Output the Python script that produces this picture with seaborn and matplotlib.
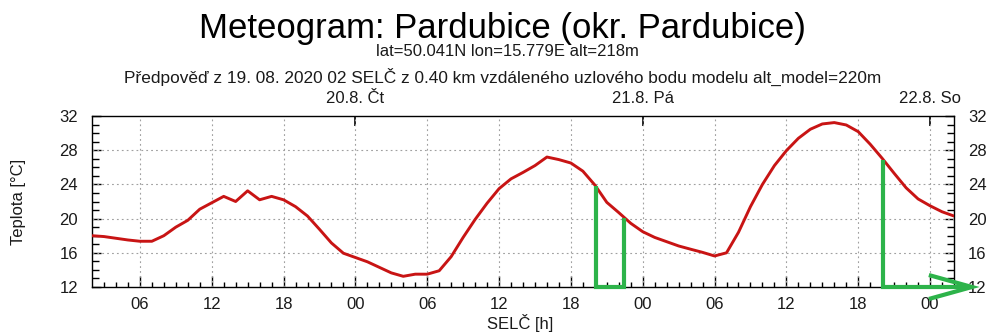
import numpy as np
import pandas as pd
import matplotlib
matplotlib.use("Agg")
import matplotlib.pyplot as plt
from matplotlib.ticker import FixedLocator
import seaborn as sns

# Forecast time axis: hours counted from 19.08.2020 00:00 SELČ
hours = list(range(2, 75))
temperature = [
    18.0, 17.9, 17.7, 17.5, 17.35, 17.35, 18.0, 19.0, 19.8, 21.1,
    21.85, 22.6, 22.0, 23.25, 22.2, 22.6, 22.2, 21.4, 20.3, 18.75,
    17.15, 15.95, 15.45, 14.95, 14.3, 13.65, 13.25, 13.5, 13.5, 13.9,
    15.55, 17.8, 19.9, 21.8, 23.5, 24.65, 25.4, 26.2, 27.2, 26.9,
    26.5, 25.55, 23.93, 21.9, 20.7, 19.45, 18.47, 17.8, 17.3, 16.8,
    16.42, 16.05, 15.63, 16.0, 18.4, 21.4, 24.0, 26.2, 27.95, 29.39,
    30.45, 31.07, 31.23, 30.95, 30.17, 28.7, 27.05, 25.3, 23.6, 22.3,
    21.5, 20.8, 20.3,
]

temp_ticks = [12, 16, 20, 24, 28, 32]
hour_ticks = [6, 12, 18, 24, 30, 36, 42, 48, 54, 60, 66, 72]
hour_labels = ["06", "12", "18", "00", "06", "12", "18", "00", "06", "12", "18", "00"]
day_hours = [24, 48, 72]
day_labels = ["20.8. Čt", "21.8. Pá", "22.8. So"]

# Highlighted evening intervals (green markers)
bracket_hours = [44.08, 46.47]
arrow_hours = [68.08, 75.5]

title = "Meteogram: Pardubice (okr. Pardubice)"
subtitle_1 = "lat=50.041N lon=15.779E alt=218m"
subtitle_2 = ("Předpověď z 19. 08. 2020 02 SELČ z 0.40 km vzdáleného "
              "uzlového bodu modelu alt_model=220m")

sns.set_theme(style="white")
plt.rcParams["font.family"] = ["Liberation Sans", "DejaVu Sans"]

df = pd.DataFrame({"hour": hours, "temp": temperature})

fig = plt.figure(figsize=(9.99, 3.35), dpi=100)
ax = fig.add_axes([92 / 999, 1 - 287 / 335, (954 - 92) / 999, (287 - 116) / 335])

sns.lineplot(data=df, x="hour", y="temp", ax=ax, color="#c81414",
             linewidth=2.1, zorder=3)

ax.set_xlim(2, 74)
ax.set_ylim(12, 32)

# dotted grid
grid_kw = dict(color="#a0a0a0", linewidth=0.8, linestyle=(0, (1.6, 2.8)), zorder=1)
for h in hour_ticks:
    ax.axvline(h, **grid_kw)
for t in temp_ticks[1:-1]:
    ax.axhline(t, **grid_kw)

# bottom / left / right ticks
ax.xaxis.set_major_locator(FixedLocator(hour_ticks))
ax.set_xticklabels(hour_labels)
ax.xaxis.set_minor_locator(FixedLocator([h for h in range(3, 74) if h % 6]))
ax.yaxis.set_major_locator(FixedLocator(temp_ticks))
ax.yaxis.set_minor_locator(FixedLocator([t for t in range(13, 32) if t % 4]))
ax.tick_params(axis="x", which="major", direction="in", length=8, width=1,
               color="black", bottom=True, top=False, pad=7, labelsize=12,
               labelcolor="#1a1a1a")
ax.tick_params(axis="x", which="minor", direction="in", length=3.6, width=1,
               color="black", bottom=True, top=False)
ax.tick_params(axis="y", which="major", direction="in", length=6.5, width=1,
               color="black", left=True, right=True, labelleft=True,
               labelright=True, pad=10, labelsize=12, labelcolor="#1a1a1a")
ax.tick_params(axis="y", which="minor", direction="in", length=5, width=1,
               color="black", left=True, right=True)
ax.set_xlabel("")
ax.set_ylabel("")

# day markers on top
top = ax.secondary_xaxis("top")
top.xaxis.set_major_locator(FixedLocator(day_hours))
top.set_xticklabels(day_labels)
top.tick_params(axis="x", direction="in", length=7.5, width=1.2, color="black",
                pad=7, labelsize=12, labelcolor="#1a1a1a")
top.spines["top"].set_visible(False)

for s in ax.spines.values():
    s.set_color("black")
    s.set_linewidth(1.0)
    s.set_visible(True)

# green interval markers, anchored on the temperature curve
green = "#2db34a"
green_kw = dict(color=green, linewidth=3.0, solid_joinstyle="miter",
                solid_capstyle="butt", clip_on=False, zorder=4)
t_lo = 12.0
b_top = np.interp(bracket_hours, hours, temperature)
ax.plot([bracket_hours[0], bracket_hours[0], bracket_hours[1], bracket_hours[1]],
        [b_top[0], t_lo, t_lo, b_top[1]], **green_kw)
a_top = np.interp(arrow_hours[0], hours, temperature)
ax.plot([arrow_hours[0], arrow_hours[0], arrow_hours[1]],
        [a_top, t_lo, t_lo], **green_kw)
ax.plot([arrow_hours[1] - 3.6, arrow_hours[1], arrow_hours[1] - 3.6],
        [t_lo + 1.4, t_lo, t_lo - 1.4], **green_kw)

# titles and axis labels
fig.text(502 / 999, 1 - 38 / 335, title, ha="center", va="baseline",
         fontsize=25, color="black")
fig.text(507 / 999, 1 - 56.5 / 335, subtitle_1, ha="center", va="baseline",
         fontsize=12, color="#1a1a1a")
fig.text(503 / 999, 1 - 83 / 335, subtitle_2, ha="center", va="baseline",
         fontsize=12.4, color="#1a1a1a")
fig.text(520 / 999, 1 - 329 / 335, "SELČ [h]", ha="center", va="baseline",
         fontsize=12, color="#1a1a1a")
fig.text(19 / 999, 1 - 202 / 335, "Teplota [°C]", ha="center", va="center",
         rotation=90, fontsize=12, color="#1a1a1a")

fig.savefig("out.png", dpi=100)
